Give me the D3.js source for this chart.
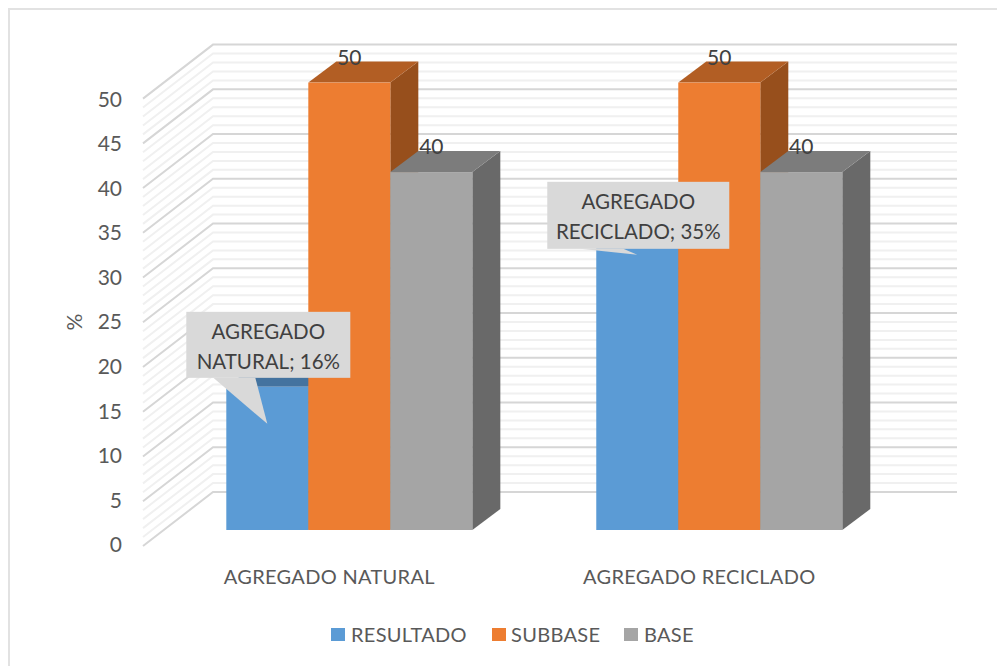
<!DOCTYPE html>
<html>
<head>
<meta charset="utf-8">
<script src="https://cdn.jsdelivr.net/npm/d3@7"></script>
<style>
  html, body { margin: 0; padding: 0; background: #fff; }
  text { font-family: Lato, "Open Sans", sans-serif; }
</style>
</head>
<body>
<div id="chart"></div>
<script>
const categories = ["AGREGADO NATURAL", "AGREGADO RECICLADO"]
const seriesNames = ["RESULTADO", "SUBBASE", "BASE"]
const resultado = [16, 35]
const subbase = [50, 50]
const base = [40, 40]
const yTicks = [0, 5, 10, 15, 20, 25, 30, 35, 40, 45, 50]
const minorTicks = d3.range(0, 51)
const calloutLines = [["AGREGADO", "NATURAL; 16%"], ["AGREGADO", "RECICLADO; 35%"]]

const seriesValues = [resultado, subbase, base]
const front = ["#5b9bd5", "#ed7d31", "#a5a5a5"]
const top_ = ["#44739f", "#b25e24", "#7c7c7c"]
const side = ["#3a6690", "#974f1c", "#696969"]

const width = 997, height = 666

// depth of the bars, and of the whole floor
const barDx = 28, barDy = 21
const wallDx = 70, wallDy = 54
const axisDy = 16   // axis front edge sits a bit under the bars

const svg = d3.select("#chart").append("svg")
    .attr("width", width)
    .attr("height", height)

// outer frame of the chart
svg.append("rect")
    .attr("x", 9).attr("y", 9)
    .attr("width", 1000).attr("height", 1000)
    .attr("fill", "none")
    .attr("stroke", "#e2e2e2")
    .attr("stroke-width", 2)

let x = d3.scaleBand().domain(categories).range([164.3, 904.3])
    .paddingInner(0.335).paddingOuter(0.1676)
let xInner = d3.scaleBand().domain(seriesNames).range([0, x.bandwidth()])
let y = d3.scaleLinear().domain([0, 50]).range([530, 82.6])

const wallLeft = 213, wallRight = 957, edgeLeft = wallLeft - wallDx

// wall + side gridlines, light ones first so the major ones stay on top
let gridData = minorTicks.slice().sort((a, b) => (a % 5 === 0) - (b % 5 === 0))
svg.append("g").selectAll("path")
    .data(gridData)
    .enter()
    .append("path")
    .attr("d", function (d) {
        let yFront = y(d) + axisDy
        let yWall = yFront - wallDy
        return d3.line()([[edgeLeft, yFront], [wallLeft, yWall], [wallRight, yWall]])
    })
    .attr("fill", "none")
    .attr("stroke", d => d % 5 === 0 ? "#d6d6d6" : "#f0f0f0")
    .attr("stroke-width", 2)

// y axis
let yAxis = d3.axisLeft(d3.scaleLinear().domain(y.domain()).range([545, 99.5]))
    .tickValues(yTicks).tickSize(0).tickPadding(0)
let yG = svg.append("g").attr("transform", "translate(122,0)").call(yAxis)
yG.select(".domain").remove()
yG.selectAll("text").style("font-size", "21px").style("font-family", "Lato").attr("fill", "#595959")

svg.append("text")
    .attr("transform", "translate(82,322) rotate(-90)")
    .attr("text-anchor", "middle")
    .style("font-size", "21px")
    .attr("fill", "#595959")
    .text("%")

// bars, back to front inside each group
categories.forEach(function (cat, c) {
    let g = svg.append("g")
    seriesNames.forEach(function (name, s) {
        let x0 = x(cat) + xInner(name)
        let x1 = x0 + xInner.bandwidth()
        let yTop = y(seriesValues[s][c])
        let yBase = y(0)
        g.append("path")
            .attr("d", d3.line()([[x1, yTop], [x1 + barDx, yTop - barDy], [x1 + barDx, yBase - barDy], [x1, yBase]]) + "Z")
            .attr("fill", side[s])
        g.append("path")
            .attr("d", d3.line()([[x0, yTop], [x0 + barDx, yTop - barDy], [x1 + barDx, yTop - barDy], [x1, yTop]]) + "Z")
            .attr("fill", top_[s])
        g.append("rect")
            .attr("x", x0).attr("y", yTop)
            .attr("width", x1 - x0).attr("height", yBase - yTop)
            .attr("fill", front[s])
    })
    // value labels of the two taller series
    ;[1, 2].forEach(function (s) {
        g.append("text")
            .attr("x", x(cat) + xInner(seriesNames[s]) + xInner.bandwidth() / 2)
            .attr("y", y(seriesValues[s][c]) - 18)
            .attr("text-anchor", "middle")
            .style("font-size", "21px")
            .attr("fill", "#404040")
            .text(seriesValues[s][c])
    })
})

// callouts, placed from the blue bar top
const callouts = [
    {left: -40, right: 124, top: -75, bottom: -9, poly: [[-13, -9], [41, 37], [29, -9]]},
    {left: -49, right: 133, top: -35, bottom: 32, poly: [[-16, 32], [41, 38], [27, 32]]}
]
callouts.forEach(function (box, c) {
    let ax = x(categories[c]), ay = y(resultado[c])
    let g = svg.append("g").attr("transform", "translate(" + ax + "," + ay + ")")
    g.append("path")
        .attr("d", d3.line()(box.poly) + "Z")
        .attr("fill", "#d9d9d9")
    g.append("rect")
        .attr("x", box.left).attr("y", box.top)
        .attr("width", box.right - box.left).attr("height", box.bottom - box.top)
        .attr("fill", "#d9d9d9")
    calloutLines[c].forEach(function (line, i) {
        g.append("text")
            .attr("x", (box.left + box.right) / 2)
            .attr("y", box.top + 27 + i * 30)
            .attr("text-anchor", "middle")
            .style("font-size", "20.5px")
            .attr("fill", "#404040")
            .text(line)
    })
})

// category labels
svg.append("g").selectAll("text")
    .data(categories)
    .enter()
    .append("text")
    .attr("x", d => x(d) + x.bandwidth() / 2 - 20)
    .attr("y", 584)
    .attr("text-anchor", "middle")
    .style("font-size", "20px")
    .style("letter-spacing", "0.3px")
    .attr("fill", "#595959")
    .text(d => d)

// legend
const legendX = [331, 492, 624]
let legend = svg.append("g").selectAll("g")
    .data(seriesNames)
    .enter()
    .append("g")
    .attr("transform", (d, i) => "translate(" + legendX[i] + ",628)")
legend.append("rect")
    .attr("width", 14).attr("height", 13)
    .attr("fill", (d, i) => front[i])
legend.append("text")
    .attr("x", (d, i) => i === 1 ? 19 : 20)
    .attr("y", 14)
    .style("font-size", "20px")
    .style("letter-spacing", "0.3px")
    .attr("fill", "#595959")
    .text(d => d)
</script>
</body>
</html>
